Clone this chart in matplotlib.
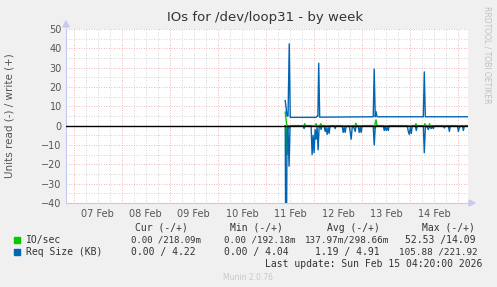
import matplotlib
matplotlib.use("Agg")
import matplotlib.pyplot as plt
from matplotlib.ticker import MultipleLocator

# ---- data (hours since 07 Feb 00:00) ----
day_labels = ["07 Feb", "08 Feb", "09 Feb", "10 Feb", "11 Feb", "12 Feb", "13 Feb", "14 Feb"]

# Req Size (KB) write (+)
req_write_t = [105.6, 106.5, 107.0, 107.6, 108.1, 121.0, 121.5, 121.9, 122.3, 122.8,
               149.5, 150.0, 150.5, 150.9, 151.4, 174.5, 175.0, 175.5, 196.6]
req_write_v = [13.0, 5.0, 5.0, 42.3, 4.3, 4.3, 4.9, 4.9, 32.3, 4.4,
               4.6, 29.3, 4.6, 7.3, 4.6, 4.6, 27.8, 4.6, 4.6]

# Req Size (KB) read (-)
req_read_t = [105.6, 106.0, 106.5, 107.0, 107.5, 108.0, 108.5, 114.5, 115.0, 115.5,
              118.5, 119.0, 119.5, 120.0, 120.5, 121.0, 121.5, 122.0, 122.5, 123.0, 123.5, 124.0,
              125.0, 125.5, 126.0, 126.5, 127.0, 127.5, 128.0, 130.0, 130.5, 131.0,
              134.0, 134.5, 135.0, 135.5, 136.0, 137.5, 138.0, 138.5, 139.0, 139.5, 140.5, 141.0,
              142.0, 142.5, 143.0, 143.5, 144.0, 149.5, 150.0, 150.5, 151.0,
              154.5, 155.0, 155.5, 156.0, 156.5, 157.0, 157.5,
              166.5, 167.0, 167.5, 168.0, 168.5, 169.0, 170.5, 171.0, 171.5,
              174.5, 175.0, 175.5, 176.0, 177.0, 177.5, 178.5, 179.0, 179.5, 180.0,
              184.5, 185.0, 185.5, 187.0, 187.5, 188.0, 191.5, 192.0, 192.5, 193.0,
              194.0, 194.5, 195.0, 196.6]
req_read_v = [0.0, 105.88, 2.0, 1.0, 21.0, 0.5, 0.0, 0.0, 1.5, 0.0,
              0.0, 15.0, 5.0, 14.0, 2.0, 7.0, 0.5, 12.5, 1.0, 0.0, 2.0, 0.0,
              0.0, 3.0, 1.0, 4.5, 1.0, 4.0, 0.0, 0.0, 1.5, 0.0,
              0.0, 3.5, 1.0, 3.5, 0.5, 0.0, 3.0, 7.0, 1.0, 0.0, 3.0, 0.0,
              0.0, 3.5, 1.0, 3.5, 0.0, 0.0, 10.0, 1.0, 0.0,
              0.0, 2.5, 0.5, 2.5, 1.0, 2.5, 0.0,
              0.0, 3.0, 4.5, 1.0, 4.0, 0.0, 0.0, 2.5, 0.0,
              0.0, 14.0, 1.0, 0.0, 2.0, 0.5, 1.5, 0.0, 1.5, 0.0,
              0.0, 1.2, 0.0, 0.0, 3.0, 0.0, 0.0, 3.0, 1.0, 0.0,
              0.0, 2.5, 0.0, 0.0]

# IO/sec write (+)
io_write_t = [105.6, 106.3, 106.8, 115.0, 115.3, 115.6, 120.5, 121.0, 121.5, 123.0, 123.3, 123.6,
              140.5, 140.8, 141.1, 150.2, 150.9, 151.4, 170.5, 170.8, 171.1, 175.0, 175.3, 175.6,
              177.3, 177.6, 177.9, 196.6]
io_write_v = [7.0, 0.5, 0.0, 0.0, 1.0, 0.0, 0.0, 1.0, 0.0, 0.0, 1.0, 0.0,
              0.0, 1.2, 0.0, 0.0, 3.0, 0.0, 0.0, 1.0, 0.0, 0.0, 1.0, 0.0,
              0.0, 1.0, 0.0, 0.0]

# IO/sec read (-)
io_read_t = [105.6, 106.3, 106.5, 106.8, 107.5, 108.0, 150.0, 150.3, 150.6, 196.6]
io_read_v = [0.0, 1.0, 15.0, 0.5, 1.5, 0.0, 0.0, 1.5, 0.0, 0.0]

legend_names = ["IO/sec", "Req Size (KB)"]
legend_colors = ["#00CC00", "#0066B3"]
legend_cur = ["0.00 /218.09m", "0.00 / 4.22"]
legend_min = ["0.00 /192.18m", "0.00 / 4.04"]
legend_avg = ["137.97m/298.66m", "1.19 / 4.91"]
legend_max = ["52.53 /14.09", "105.88 /221.92"]

# ---- figure ----
W, H = 497, 287
fig = plt.figure(figsize=(W / 100, H / 100), dpi=100, facecolor="#F0F0F0")
x0, x1, ytop, ybot = 66, 468, 29, 203
ax = fig.add_axes([x0 / W, 1 - ybot / H, (x1 - x0) / W, (ybot - ytop) / H])
ax.set_facecolor("white")

t_end = 196.8
t_start = t_end - (x1 - x0) / 2.004
ax.set_xlim(t_start, t_end)
ax.set_ylim(-40, 50)

# grids
for v in range(-40, 51, 5):
    if v % 10 == 0:
        ax.axhline(v, color="#E8A0A0", lw=0.6, ls=(0, (1, 2)), zorder=0.5)
    else:
        ax.axhline(v, color="#C8C8C8", lw=0.6, ls=(0, (1, 2)), zorder=0.4)
h = -18
while h < t_end:
    if h % 24 == 0:
        ax.axvline(h, color="#E8A0A0", lw=0.6, ls=(0, (1, 2)), zorder=0.5)
    else:
        ax.axvline(h, color="#C8C8C8", lw=0.6, ls=(0, (1, 2)), zorder=0.4)
    h += 6

ax.plot(io_write_t, io_write_v, color=legend_colors[0], lw=1.0, zorder=2)
ax.plot(io_read_t, [-v for v in io_read_v], color=legend_colors[0], lw=1.0, zorder=2)
ax.plot(req_write_t, req_write_v, color=legend_colors[1], lw=1.0, zorder=3)
ax.plot(req_read_t, [-v for v in req_read_v], color=legend_colors[1], lw=1.0, zorder=3)
ax.axhline(0, color="black", lw=1.0, zorder=4)

# ticks
ax.yaxis.set_major_locator(MultipleLocator(10))
ax.set_xticks([12 + 24 * i for i in range(len(day_labels))])
ax.set_xticklabels(day_labels)
ax.tick_params(axis="both", length=0, labelsize=7, colors="#555555", pad=4)
ax.tick_params(axis="y", pad=3)

for s in ["top", "right"]:
    ax.spines[s].set_visible(False)
for s in ["left", "bottom"]:
    ax.spines[s].set_color("#C8C8F0")
    ax.spines[s].set_linewidth(0.8)

# axis arrows
fig.patches.append(plt.Polygon([[(x0 - 3) / W, 1 - 27 / H], [(x0 + 3) / W, 1 - 27 / H], [x0 / W, 1 - 21 / H]],
                               closed=True, transform=fig.transFigure, color="#C8C8F0"))
fig.patches.append(plt.Polygon([[469 / W, 1 - (ybot - 3) / H], [469 / W, 1 - (ybot + 3) / H], [475 / W, 1 - ybot / H]],
                               closed=True, transform=fig.transFigure, color="#C8C8F0"))

# texts
fig.text(265 / W, 1 - 18 / H, "IOs for /dev/loop31 - by week", ha="center", va="center",
         fontsize=9.5, color="#333333")
fig.text(10 / W, 1 - 116 / H, "Units read (-) / write (+)", rotation=90, ha="center", va="center",
         fontsize=7.5, color="#555555")
fig.text(487 / W, 1 - 55 / H, "RRDTOOL / TOBI OETIKER", rotation=270, ha="center", va="center",
         fontsize=5.5, color="#C0C0C0")

mono = "DejaVu Sans Mono"
fs = 7
tc = "#333333"
hy = 228
for txt, xs in [("Cur (-/+)", 135), ("Min (-/+)", 230), ("Avg (-/+)", 327), ("Max (-/+)", 422)]:
    fig.text(xs / W, 1 - hy / H, txt, ha="left", va="center", family=mono, fontsize=fs, color=tc)

rows_y = [240, 252]
# (start px, end px) of each value cell
cells = [
    [(131, 197), (224, 296), (305, 389), (405, 477)],
    [(131, 197), (224, 290), (315, 383), (399, 477)],
]
values = [[legend_cur[i], legend_min[i], legend_avg[i], legend_max[i]] for i in range(2)]
char_w = 0.602 * 100 / 72  # px per pt per char
for i, name in enumerate(legend_names):
    y = 1 - rows_y[i] / H
    fig.patches.append(plt.Rectangle((14 / W, y - 3 / H), 6 / W, 6 / H, transform=fig.transFigure,
                                     color=legend_colors[i]))
    fig.text(26 / W, y, name, ha="left", va="center", family=mono, fontsize=fs, color=tc)
    for (xs, xe), txt in zip(cells[i], values[i]):
        size = max(6.5, min(fs, (xe - xs) / (char_w * len(txt))))
        fig.text(xs / W, y, txt, ha="left", va="center", family=mono, fontsize=size, color=tc)

fig.text(482 / W, 1 - 264 / H, "Last update: Sun Feb 15 04:20:00 2026", ha="right", va="center",
         family=mono, fontsize=fs, color=tc)
fig.text(248 / W, 1 - 277 / H, "Munin 2.0.76", ha="center", va="center", fontsize=5.5, color="#C8C8C8")

fig.savefig("out.png", dpi=100, facecolor=fig.get_facecolor())
